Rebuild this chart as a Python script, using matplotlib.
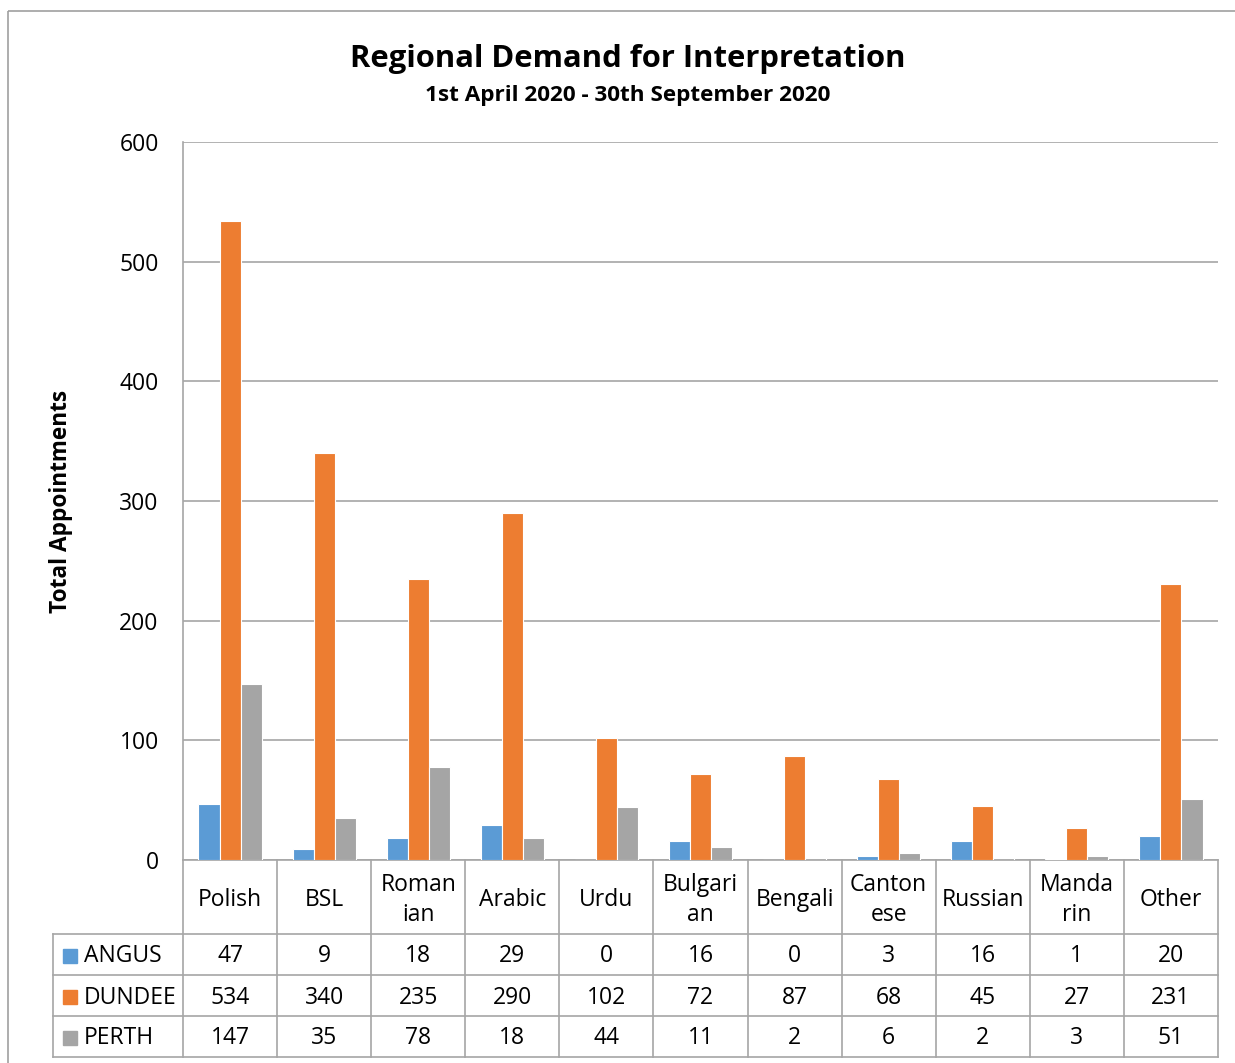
import matplotlib
matplotlib.use("Agg")
import matplotlib.pyplot as plt
import matplotlib.transforms as mtransforms
from matplotlib.patches import Rectangle
import numpy as np

plt.rcParams['font.family'] = ['Open Sans', 'DejaVu Sans']

# Data
categories = ["Polish", "BSL", "Roman\nian", "Arabic", "Urdu", "Bulgari\nan",
              "Bengali", "Canton\nese", "Russian", "Manda\nrin", "Other"]
angus = [47, 9, 18, 29, 0, 16, 0, 3, 16, 1, 20]
dundee = [534, 340, 235, 290, 102, 72, 87, 68, 45, 27, 231]
perth = [147, 35, 78, 18, 44, 11, 2, 6, 2, 3, 51]
series_names = ["ANGUS", "DUNDEE", "PERTH"]
colors = ["#5B9BD5", "#ED7D31", "#A5A5A5"]
yticks = [0, 100, 200, 300, 400, 500, 600]

W, H = 1235, 1063
fig = plt.figure(figsize=(W / 100, H / 100), dpi=100)

# Full-figure overlay in pixel units for frame, titles and table
ov = fig.add_axes([0, 0, 1, 1], zorder=0)
ov.set_xlim(0, W)
ov.set_ylim(H, 0)
ov.axis("off")

line_c = "#A6A6A6"
ov.add_patch(Rectangle((8, 11), W + 20, H, fill=False, edgecolor="#A0A0A0", lw=1.2))

ov.text(628, 59, "Regional Demand for Interpretation", ha="center", va="center",
        fontsize=22.3, fontweight="bold")
ov.text(628, 96, "1st April 2020 - 30th September 2020", ha="center", va="center",
        fontsize=16.2, fontweight="bold")

# Main plot area
x0, x1, ytop, ybot = 183, 1218, 142, 860
ax = fig.add_axes([x0 / W, 1 - ybot / H, (x1 - x0) / W, (ybot - ytop) / H], zorder=1)
ax.patch.set_alpha(0)
n = len(categories)
x = np.arange(n)
bw = 0.224
for i, (vals, c) in enumerate(zip([angus, dundee, perth], colors)):
    ax.bar(x + (i - 1) * bw, vals, width=bw, color=c, edgecolor="white",
           linewidth=0.8, zorder=3)
ax.set_xlim(-0.5, n - 0.5)
ax.set_ylim(0, 600)
ax.set_yticks(yticks)
ax.set_yticklabels([str(t) for t in yticks], fontsize=16.5)
ax.tick_params(axis="y", length=0, pad=17.5)
ax.set_xticks([])
ax.grid(axis="y", color=line_c, lw=1.2, zorder=0)
for s in ["top", "right", "bottom"]:
    ax.spines[s].set_visible(False)
ax.spines["left"].set_color(line_c)
ax.spines["left"].set_linewidth(1.2)
ax.set_ylabel("Total Appointments", fontsize=16.3, fontweight="bold", labelpad=33)

# Data table beneath the axis: x follows the category axis, y in pixels
tr = mtransforms.blended_transform_factory(ax.transData, ov.transData)
row_tops = [860, 934, 975, 1016, 1057]
lkw = dict(color=line_c, lw=1.2, clip_on=False)
# horizontal rules
ov.plot([x0, x1], [row_tops[0]] * 2, **lkw)
for yy in row_tops[1:]:
    ov.plot([53, x1], [yy, yy], **lkw)
# vertical rules
for b in np.arange(n + 1) - 0.5:
    ov.plot([b, b], [row_tops[0], row_tops[-1]], transform=tr, **lkw)
ov.plot([53, 53], [row_tops[1], row_tops[-1]], **lkw)

for i, cat in enumerate(categories):
    yy = (row_tops[0] + row_tops[1]) / 2 + 3
    ov.text(i, yy, cat, transform=tr, ha="center", va="center", fontsize=16.5,
            linespacing=1.35)

for r, (name, vals, c) in enumerate(zip(series_names, [angus, dundee, perth], colors)):
    yc = (row_tops[r + 1] + row_tops[r + 2]) / 2 + 2
    ov.add_patch(Rectangle((63, yc - 8), 14, 14, color=c))
    ov.text(84, yc, name, ha="left", va="center", fontsize=16.5)
    for i, v in enumerate(vals):
        ov.text(i, yc, str(v), transform=tr, ha="center", va="center", fontsize=16.5)

fig.savefig("out.png", dpi=100)
